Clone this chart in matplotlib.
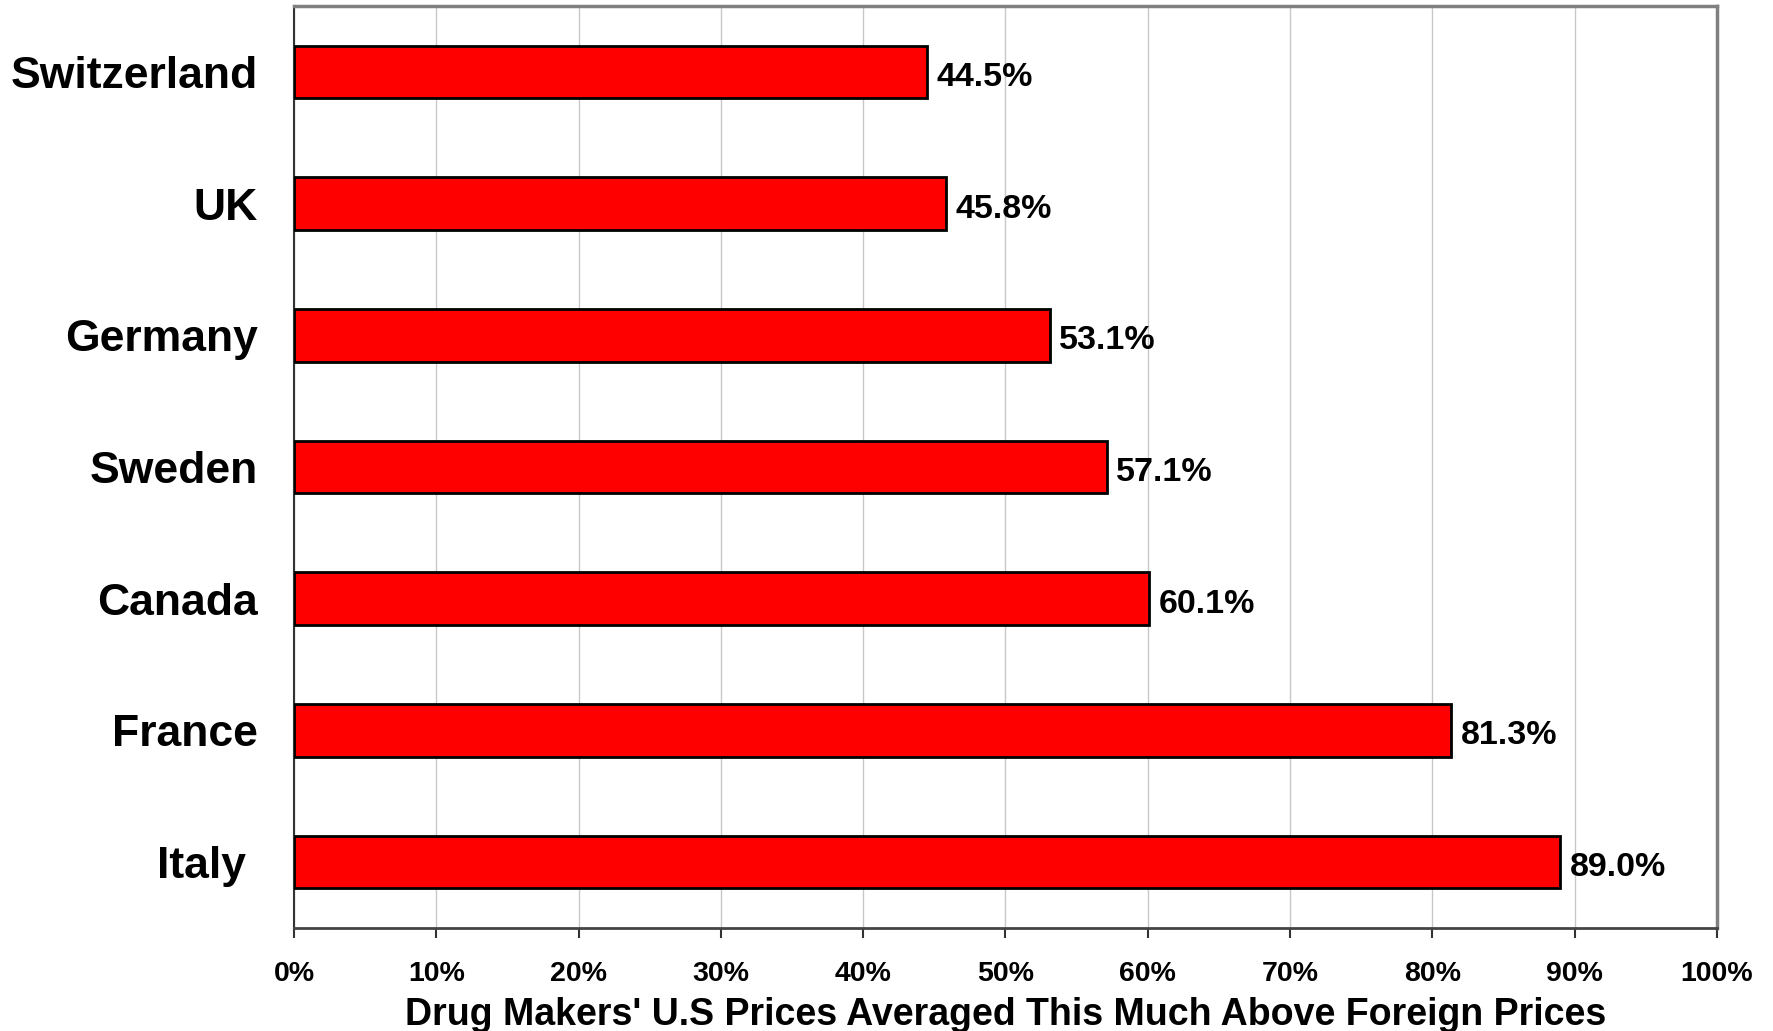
import matplotlib
matplotlib.use("Agg")
import matplotlib.pyplot as plt

countries = ["Switzerland", "UK", "Germany", "Sweden", "Canada", "France", "Italy "]
values = [44.5, 45.8, 53.1, 57.1, 60.1, 81.3, 89.0]
value_labels = ["44.5%", "45.8%", "53.1%", "57.1%", "60.1%", "81.3%", "89.0%"]
xticks = [0, 10, 20, 30, 40, 50, 60, 70, 80, 90, 100]
xtick_labels = ["0%", "10%", "20%", "30%", "40%", "50%", "60%", "70%", "80%", "90%", "100%"]
xlabel = "Drug Makers' U.S Prices Averaged This Much Above Foreign Prices"

plt.rcParams['font.family'] = ['Liberation Sans', 'DejaVu Sans']

fig = plt.figure(figsize=(17.74, 10.31), dpi=100)
ax = fig.add_axes([294/1774, 1 - 928/1031, (1717-294)/1774, (928-6)/1031])

ypos = list(range(len(countries)))
ax.barh(ypos, values, height=0.4, color="#ff0000", edgecolor="black", linewidth=2, zorder=3)
ax.set_ylim(len(countries) - 0.5, -0.5)
ax.set_xlim(0, 100)

for y, v, lab in zip(ypos, values, value_labels):
    ax.annotate(lab, (v, y), xytext=(7, -4), textcoords="offset points",
                ha="left", va="center", fontsize=24.5, fontweight="bold", zorder=4)

ax.set_yticks(ypos)
ax.set_yticklabels(countries, fontsize=32, fontweight="bold")
ax.tick_params(axis="y", length=0, pad=26)

ax.set_xticks(xticks)
ax.set_xticklabels(xtick_labels, fontsize=20.5, fontweight="bold")
ax.tick_params(axis="x", direction="out", length=7, width=1.5, color="#333333", pad=17)

ax.grid(axis="x", color="#c8c8c8", linewidth=1, zorder=0)
ax.set_axisbelow(True)

for side in ["top", "right"]:
    ax.spines[side].set_color("#808080")
    ax.spines[side].set_linewidth(2.5)
ax.spines["left"].set_color("#333333")
ax.spines["left"].set_linewidth(1.5)
ax.spines["bottom"].set_color("#444444")
ax.spines["bottom"].set_linewidth(2)

ax.set_xlabel(xlabel, fontsize=27, fontweight="bold", labelpad=7)

fig.savefig("out.png", dpi=100)
